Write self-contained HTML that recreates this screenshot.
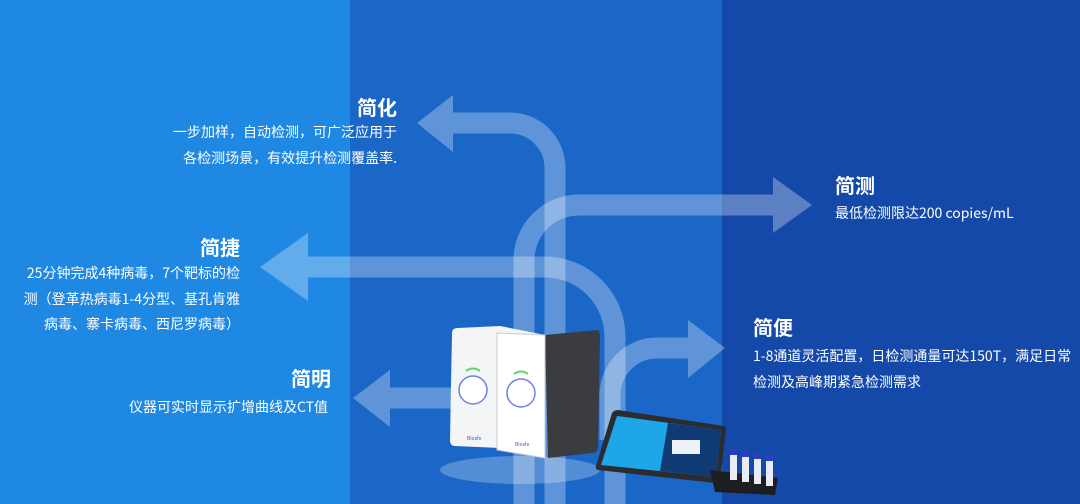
<!DOCTYPE html>
<html><head><meta charset="utf-8"><style>
html,body{margin:0;padding:0}
body{width:1080px;height:504px;overflow:hidden;position:relative;font-family:"Noto Sans CJK SC","Liberation Sans",sans-serif;color:#fff}
.bg{position:absolute;top:0;height:504px}
.t{position:absolute;white-space:nowrap}
.h{font-size:20px;font-weight:bold;line-height:26px}
.p{font-size:14px;line-height:25.5px}
.r{text-align:right}
</style></head><body>
<div class="bg" style="left:0;width:350px;background:#1e88e3"></div>
<div class="bg" style="left:350px;width:372px;background:#1a67c8"></div>
<div class="bg" style="left:722px;width:358px;background:#1549a9"></div>
<svg width="1080" height="504" style="position:absolute;left:0;top:0">
<g opacity="0.3">
<g fill="none" stroke="#ffffff" stroke-width="21">
<path d="M555 504 V168 A45 45 0 0 0 510 123 H452"/>
</g><polygon fill="#fff" points="453,95 453,152 417,123"/></g>
<g opacity="0.3"><g fill="none" stroke="#ffffff" stroke-width="21">
<path d="M524 504 V260 A55 55 0 0 1 579 205 H774"/></g>
<polygon fill="#fff" points="773,177 773,233 812,205"/></g>
<g opacity="0.3"><g fill="none" stroke="#ffffff" stroke-width="21">
<path d="M307 267 H545 A70 70 0 0 1 615 337 V504"/></g>
<polygon fill="#fff" points="308,233 308,301 260,267"/></g>
<g opacity="0.3"><g fill="none" stroke="#ffffff" stroke-width="21">
<path d="M389 398 H455"/></g>
<polygon fill="#fff" points="390,370 390,427 353,398"/></g>
<g opacity="0.3"><g fill="none" stroke="#ffffff" stroke-width="21">
<path d="M610 440 V395 A47 47 0 0 1 657 348 H689"/></g>
<polygon fill="#fff" points="688,320 688,378 725,348"/></g>
<!-- devices -->
<ellipse cx="520" cy="470" rx="80" ry="14" fill="#ffffff" fill-opacity="0.25"/>
<path d="M545 335 L597 330 Q600 330 600 336 L598 448 Q597 453 592 453 L548 458 Z" fill="#3a3c40"/>
<path d="M452 333 Q452 328 458 328 L500 326 L545 335 L545 458 L500 448 L455 446 Q450 446 450 440 Z" fill="#f4f5f7"/>
<path d="M497 333 L545 335 L545 458 L497 450 Z" fill="#ffffff" stroke="#c8cbd0" stroke-width="1"/>
<circle cx="473" cy="390" r="14" fill="#fff" stroke="#6f7fe6" stroke-width="1.5"/>
<circle cx="521" cy="393" r="14" fill="#fff" stroke="#6f7fe6" stroke-width="1.5"/>
<path d="M466 371 Q473 366 480 371" stroke="#5ed46a" stroke-width="2" fill="none"/>
<path d="M514 374 Q521 369 528 374" stroke="#5ed46a" stroke-width="2" fill="none"/>
<text x="467" y="440" font-size="5" fill="#3f55d8">Biosfe</text>
<text x="515" y="446" font-size="5" fill="#3f55d8">Biosfe</text>
<path d="M612 413 Q614 410 618 410 L724 426 Q727 427 726 431 L720 480 Q719 484 715 483 L598 470 Q595 469 596 466 Z" fill="#2a2c30"/>
<path d="M617 416 L721 430 L716 477 L601 465 Z" fill="#1ea6e8"/>
<path d="M668 423 L721 430 L716 477 L660 471 Z" fill="#0f3a74"/>
<rect x="672" y="440" width="28" height="14" fill="#eef2f6"/>
<path d="M710 470 L778 478 L775 495 L715 492 Z" fill="#1d1e22"/>
<g fill="#e8ecf2"><rect x="730" y="455" width="7" height="25"/><rect x="742" y="457" width="7" height="25"/><rect x="754" y="459" width="7" height="25"/><rect x="766" y="461" width="7" height="25"/></g>
<g fill="#2a3fc0"><rect x="730" y="449" width="7" height="6"/><rect x="742" y="451" width="7" height="6"/><rect x="754" y="453" width="7" height="6"/><rect x="766" y="455" width="7" height="6"/></g>
</svg>
<div class="t h r" style="right:683px;top:94px">简化</div>
<div class="t p r" style="right:683px;top:120px">一步加样，自动检测，可广泛应用于<br>各检测场景，有效提升检测覆盖率.</div>
<div class="t h r" style="right:840px;top:234px">简捷</div>
<div class="t p r" style="right:840px;top:261px">25分钟完成4种病毒，7个靶标的检<br>测（登革热病毒1-4分型、基孔肯雅<br>病毒、寨卡病毒、西尼罗病毒）</div>
<div class="t h r" style="right:749px;top:365px">简明</div>
<div class="t p r" style="right:752px;top:395px">仪器可实时显示扩增曲线及CT值</div>
<div class="t h" style="left:835px;top:172px">简测</div>
<div class="t p" style="left:835px;top:201px">最低检测限达200 copies/mL</div>
<div class="t h" style="left:753px;top:314px">简便</div>
<div class="t p" style="left:753px;top:344px">1-8通道灵活配置，日检测通量可达150T，满足日常<br>检测及高峰期紧急检测需求</div>
</body></html>
